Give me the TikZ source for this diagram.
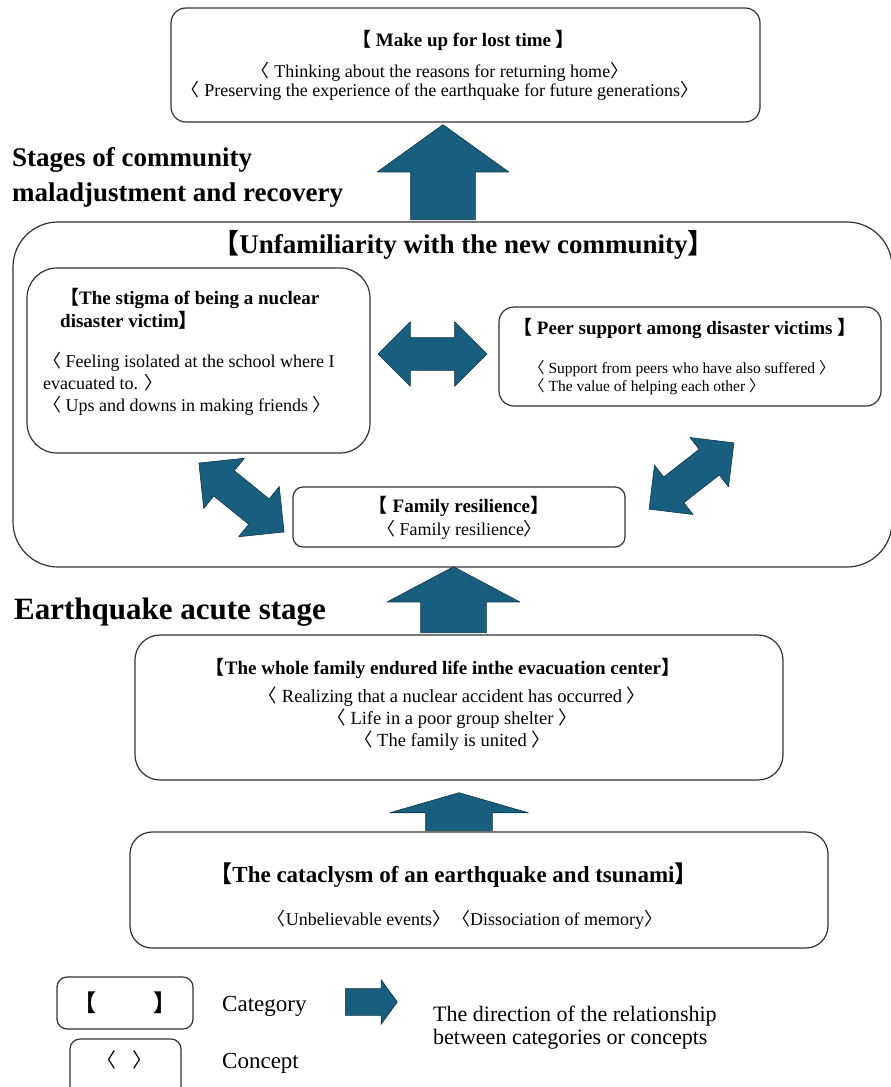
\documentclass[tikz,border=0pt]{standalone}
\usepackage{fontspec}
\setmainfont{Liberation Serif}
\newfontfamily\cjk{Noto Sans CJK JP}
\usetikzlibrary{shapes.arrows}
\newcommand{\catl}{{\cjk 【}}
\newcommand{\catr}{{\cjk 】}}
\newcommand{\conl}{{\cjk 〈}}
\newcommand{\conr}{{\cjk 〉}}
\definecolor{arrowblue}{RGB}{24,94,127}
\definecolor{arrowedge}{RGB}{15,52,72}
\tikzset{
	boxline/.style={draw=black!80, line width=1.2pt},
	cattext/.style={font=\bfseries\fontsize{19}{23}\selectfont, inner sep=0pt},
	context/.style={font=\fontsize{18}{19.5}\selectfont, inner sep=0pt, align=center},
	stagetext/.style={font=\bfseries\fontsize{27}{32}\selectfont, inner sep=0pt},
	blockarrow/.style={single arrow, fill=arrowblue, draw=arrowedge, line width=0.6pt, inner xsep=0pt, text height=0pt, text depth=0pt},
	twoway/.style={double arrow, fill=arrowblue, draw=arrowedge, line width=0.6pt, inner xsep=0pt, inner ysep=16pt, minimum width=64pt, double arrow head extend=16pt, double arrow tip angle=90, text height=0pt, text depth=0pt}
}
\begin{document}
\begin{tikzpicture}[x=1pt, y=-1pt, line join=round]
	\path[use as bounding box, fill=white] (0,0) rectangle (891,1087);
	
	% Kategorie oben
	\node[boxline, rounded corners=15pt, minimum width=589, minimum height=114] (lost) at (465.5,65) {};
	\node[cattext] (losttitle) at (463.5,40) {\catl{} Make up for lost time \catr};
	\node[context] (losttext) at (440,81.5) {\conl{} Thinking about the reasons for returning home\conr\\\conl{} Preserving the experience of the earthquake for future generations\conr};
	
	% Phasen
	\node[stagetext, anchor=base west] (stageA) at (12,166) {Stages of community};
	\node[stagetext, anchor=base west] (stageB) at (12,201) {maladjustment and recovery};
	\node[stagetext, font=\bfseries\fontsize{31}{36}\selectfont, anchor=base west] (stageC) at (14,619) {Earthquake acute stage};
	
	% neue Gemeinschaft
	\node[boxline, rounded corners=45pt, minimum width=879, minimum height=345] (comm) at (452.5,394.5) {};
	\node[stagetext] (commtitle) at (463.5,245) {\catl Unfamiliarity with the new community\catr};
	
	\node[boxline, rounded corners=30pt, minimum width=343, minimum height=185] (stigma) at (198.5,360.5) {};
	\node[cattext, align=left, anchor=west] (stigmatitle) at (60,308.5) {\catl The stigma of being a nuclear\\disaster victim\catr};
	\node[context, align=left, anchor=west, font=\fontsize{18}{22}\selectfont] (stigmatext) at (43,384) {\conl{} Feeling isolated at the school where I\\evacuated to. \conr\\\conl{} Ups and downs in making friends \conr};
	
	\node[boxline, rounded corners=15pt, minimum width=382, minimum height=99] (peer) at (690,356.5) {};
	\node[cattext, anchor=west] (peertitle) at (513,328) {\catl{} Peer support among disaster victims \catr};
	\node[context, align=left, anchor=west, font=\fontsize{15.5}{18}\selectfont] (peertext) at (529,378) {\conl{} Support from peers who have also suffered \conr\\\conl{} The value of helping each other \conr};
	
	\node[boxline, rounded corners=10pt, minimum width=332, minimum height=60] (family) at (459,517) {};
	\node[cattext] (familytitle) at (459,506) {\catl{} Family resilience\catr};
	\node[context] (familytext) at (459.5,530) {\conl{} Family resilience\conr};
	
	% Akutphase
	\node[boxline, rounded corners=25pt, minimum width=648, minimum height=145] (shelter) at (459,707.5) {};
	\node[cattext] (sheltertitle) at (443,668) {\catl The whole family endured life inthe evacuation center\catr};
	\node[context, font=\fontsize{18.5}{22}\selectfont] (sheltertext) at (452,719) {\conl{} Realizing that a nuclear accident has occurred \conr\\\conl{} Life in a poor group shelter \conr\\\conl{} The family is united \conr};
	
	\node[boxline, rounded corners=22pt, minimum width=698, minimum height=116] (quake) at (479,890) {};
	\node[cattext, font=\bfseries\fontsize{23}{27}\selectfont] (quaketitle) at (453.5,875) {\catl The cataclysm of an earthquake and tsunami\catr};
	\node[context] (quaketext) at (465,920) {\conl Unbelievable events\conr\hspace{2pt}\conl Dissociation of memory\conr};
	
	% Pfeile
	\node[blockarrow, rotate=90, minimum height=95, minimum width=131, inner ysep=32pt, single arrow head extend=33.5pt, single arrow tip angle=108.6, anchor=tail] (upA) at (443,220) {};
	\node[blockarrow, rotate=90, minimum height=66, minimum width=132, inner ysep=32.5pt, single arrow head extend=33.5pt, single arrow tip angle=124, anchor=tail] (upB) at (453.5,633) {};
	\node[blockarrow, rotate=90, minimum height=38, minimum width=138, inner ysep=33pt, single arrow head extend=36pt, single arrow tip angle=147.7, anchor=tail] (upC) at (459,831) {};
	\node[twoway, minimum height=109] (stigmapeer) at (432.5,354) {};
	\node[twoway, rotate=-39, minimum height=109.5] (stigmafamily) at (241.5,497.5) {};
	\node[twoway, rotate=38, minimum height=107.6, minimum width=62, inner ysep=16pt, double arrow head extend=15pt] (peerfamily) at (691.5,476) {};
	
	% Legende
	\node[boxline, rounded corners=10pt, minimum width=136, minimum height=52] (legcat) at (125,1003) {};
	\node[cattext, font=\bfseries\fontsize{23}{27}\selectfont] (legcattext) at (125,1003) {\catl\hspace*{58pt}\catr};
	\node[inner sep=0pt, font=\fontsize{23}{27}\selectfont, anchor=base west] (legcatlabel) at (222,1011) {Category};
	\node[blockarrow, minimum height=52, minimum width=44, inner ysep=13pt, single arrow head extend=9pt, single arrow tip angle=108, anchor=tail] (legarrow) at (345,1002) {};
	\node[inner sep=0pt, font=\fontsize{22}{23}\selectfont, align=left, anchor=west] (legarrowlabel) at (433,1027.4) {The direction of the relationship\\between categories or concepts};
	\node[boxline, rounded corners=10pt, minimum width=111, minimum height=61] (legcon) at (125.5,1069.5) {};
	\node[context, font=\fontsize{20}{24}\selectfont] (legcontext) at (124,1060) {\conl\hspace*{16pt}\conr};
	\node[inner sep=0pt, font=\fontsize{23}{27}\selectfont, anchor=base west] (legconlabel) at (222,1068) {Concept};
\end{tikzpicture}
\end{document}
